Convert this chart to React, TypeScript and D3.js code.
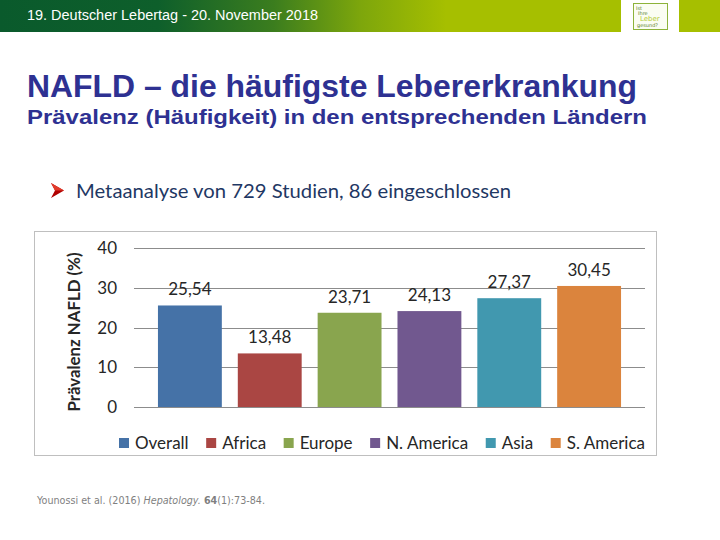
import React, { useEffect, useRef } from "react";
import * as d3 from "d3";

const categories = ["Overall", "Africa", "Europe", "N. America", "Asia", "S. America"];
const values = [25.54, 13.48, 23.71, 24.13, 27.37, 30.45];
const colors = ["#4572A7", "#AA4643", "#89A54E", "#71588F", "#4198AF", "#DB843D"];
const yTicks = [0, 10, 20, 30, 40];

const headerText = "19. Deutscher Lebertag - 20. November 2018";
const titleText = "NAFLD – die häufigste Lebererkrankung";
const subtitleText = "Prävalenz (Häufigkeit) in den entsprechenden Ländern";
const bulletText = "Metaanalyse von 729 Studien, 86 eingeschlossen";
const yAxisTitle = "Prävalenz NAFLD (%)";

const W = 720;
const H = 540;
const chartFont = "Lato, 'Open Sans', sans-serif";
const arial = "'Liberation Sans', Arial, sans-serif";

export default function App() {
  const ref = useRef<SVGSVGElement | null>(null);

  useEffect(() => {
    const svg = d3.select(ref.current);
    svg.selectAll("*").remove();

    const defs = svg.append("defs");
    const grad = defs.append("linearGradient").attr("id", "hdr").attr("x1", "0").attr("x2", "1").attr("y1", "0").attr("y2", "0");
    [
      ["0%", "#0a5a2c"],
      ["22%", "#0e5f2b"],
      ["38%", "#3b7d1e"],
      ["50%", "#7da60c"],
      ["62%", "#a6bf00"],
      ["100%", "#a6bf00"],
    ].forEach(([o, c]) => grad.append("stop").attr("offset", o).attr("stop-color", c));

    // header
    svg.append("rect").attr("x", 0).attr("y", 0).attr("width", W).attr("height", 32).attr("fill", "url(#hdr)");
    svg.append("rect").attr("x", 621).attr("y", 0).attr("width", 58).attr("height", 32).attr("fill", "#ffffff");
    const logo = svg.append("g");
    logo.append("rect").attr("x", 633.5).attr("y", 3.5).attr("width", 34).attr("height", 26).attr("fill", "#fbfdf3").attr("stroke", "#8db33a").attr("stroke-width", 1);
    logo.append("text").attr("x", 636).attr("y", 10).attr("font-size", 5).attr("fill", "#5a7d2a").attr("font-family", "'DejaVu Sans'").text("Ist");
    logo.append("text").attr("x", 638).attr("y", 15).attr("font-size", 5).attr("fill", "#5a7d2a").attr("font-family", "'DejaVu Sans'").text("Ihre");
    logo.append("text").attr("x", 640).attr("y", 21).attr("font-size", 7).attr("fill", "#b5cc3a").attr("font-family", "'DejaVu Sans'").text("Leber");
    logo.append("text").attr("x", 637).attr("y", 27).attr("font-size", 5).attr("fill", "#5a7d2a").attr("font-family", "'DejaVu Sans'").text("gesund?");

    svg.append("text").attr("x", 27).attr("y", 20).attr("font-family", arial).attr("font-size", 14)
      .attr("textLength", 291).attr("lengthAdjust", "spacingAndGlyphs").attr("fill", "#ffffff").text(headerText);

    svg.append("text").attr("x", 27).attr("y", 97).attr("font-family", arial).attr("font-size", 32).attr("font-weight", "bold")
      .attr("textLength", 610).attr("lengthAdjust", "spacingAndGlyphs").attr("fill", "#2e3192").text(titleText);
    svg.append("text").attr("x", 27).attr("y", 124).attr("font-family", arial).attr("font-size", 20).attr("font-weight", "bold")
      .attr("textLength", 620).attr("lengthAdjust", "spacingAndGlyphs").attr("fill", "#2e3192").text(subtitleText);

    // bullet arrow
    svg.append("path").attr("d", "M51,183 L64,190.5 L51,198 L55,190.5 Z").attr("fill", "#b00000");
    svg.append("path").attr("d", "M51,183 L64,190.5 L55,190.5 Z").attr("fill", "#e23a2a");
    svg.append("text").attr("x", 76).attr("y", 198).attr("font-family", chartFont).attr("font-size", 20)
      .attr("textLength", 435).attr("lengthAdjust", "spacingAndGlyphs").attr("fill", "#1f3864").text(bulletText);

    // chart frame
    svg.append("rect").attr("x", 34.5).attr("y", 231.5).attr("width", 622).attr("height", 224).attr("fill", "#ffffff").attr("stroke", "#bfbfbf").attr("stroke-width", 1);

    const x = d3.scaleBand<string>().domain(categories).range([134, 645]).paddingInner(0.2).paddingOuter(0.3);
    const y = d3.scaleLinear().domain([0, 40]).range([407, 248]);

    svg.append("g").selectAll("line").data(yTicks).join("line")
      .attr("x1", 134).attr("x2", 645)
      .attr("y1", (d) => Math.round(y(d)) + 0.5).attr("y2", (d) => Math.round(y(d)) + 0.5)
      .attr("stroke", "#8c8c8c").attr("stroke-width", 1);

    svg.append("g").selectAll("text").data(yTicks).join("text")
      .attr("x", 117).attr("y", (d) => y(d) + 6)
      .attr("text-anchor", "end").attr("font-family", chartFont).attr("font-size", 17).attr("fill", "#262626")
      .text((d) => String(d));

    svg.append("text")
      .attr("transform", "translate(80,332) rotate(-90)")
      .attr("text-anchor", "middle").attr("font-family", chartFont).attr("font-weight", "bold").attr("font-size", 17)
      .attr("textLength", 159).attr("lengthAdjust", "spacingAndGlyphs").attr("fill", "#262626")
      .text(yAxisTitle);

    const fmt = d3.formatLocale({ decimal: ",", thousands: ".", grouping: [3], currency: ["", "€"] }).format(".2f");

    svg.append("g").selectAll("rect").data(values).join("rect")
      .attr("x", (_, i) => x(categories[i])!).attr("width", x.bandwidth())
      .attr("y", (d) => y(d)).attr("height", (d) => y(0) - y(d))
      .attr("fill", (_, i) => colors[i]);

    svg.append("g").selectAll("text").data(values).join("text")
      .attr("x", (_, i) => x(categories[i])! + x.bandwidth() / 2)
      .attr("y", (d) => y(d) - 10)
      .attr("text-anchor", "middle").attr("font-family", chartFont).attr("font-size", 17).attr("fill", "#262626")
      .text((d) => fmt(d));

    // legend
    const lg = svg.append("g");
    const items = lg.selectAll("g").data(categories).join("g");
    items.append("rect").attr("width", 10).attr("height", 10).attr("y", -5).attr("fill", (_, i) => colors[i]);
    const texts = items.append("text").attr("x", 16).attr("y", 6).attr("font-family", chartFont).attr("font-size", 17).attr("fill", "#262626").text((d) => d);
    const widths: number[] = [];
    texts.each(function () { widths.push(16 + (this as SVGTextElement).getComputedTextLength()); });
    const total = d3.sum(widths);
    const gap = (645 - 119 - total) / (categories.length - 1);
    let cx = 119;
    items.attr("transform", (_, i) => {
      const t = `translate(${cx},443)`;
      cx += widths[i] + gap;
      return t;
    });

    // footer
    const ft = svg.append("text").attr("x", 37).attr("y", 504).attr("font-family", "'DejaVu Sans', sans-serif").attr("font-size", 9.6)
      .attr("fill", "#7f7f7f");
    ft.append("tspan").text("Younossi et al.  (2016) ");
    ft.append("tspan").attr("font-style", "italic").text("Hepatology. ");
    ft.append("tspan").attr("font-weight", "bold").text("64");
    ft.append("tspan").text("(1):73-84.");
  }, []);

  return (
    <svg ref={ref} width={W} height={H} style={{ position: "absolute", left: 0, top: 0, background: "#ffffff" }} />
  );
}
